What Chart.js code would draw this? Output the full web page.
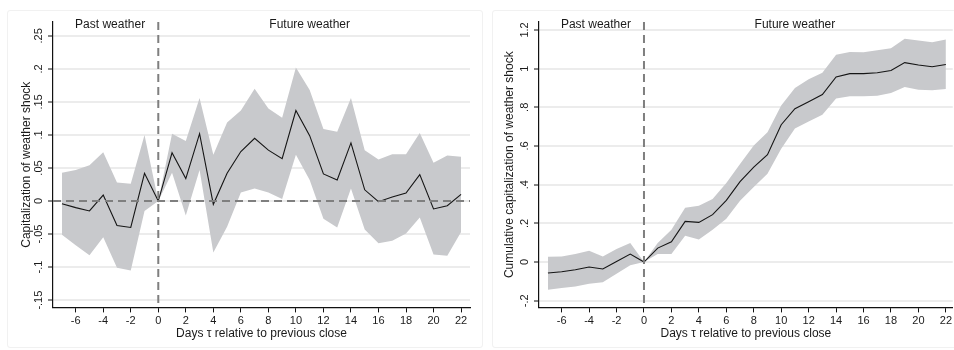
<!DOCTYPE html>
<html>
<head>
<meta charset="utf-8">
<script src="https://cdn.jsdelivr.net/npm/chart.js@4/dist/chart.umd.min.js"></script>
<style>
  body { margin: 0; background: #fff; width: 954px; height: 350px; overflow: hidden; position: relative; }
  .panel { position: absolute; top: 0; width: 477px; height: 350px; }
  .frame { position: absolute; border: 1px solid #f1f1f1; border-radius: 3px; }
</style>
</head>
<body>
<div class="frame" style="left:7px;top:10px;width:474px;height:336px"></div>
<div class="frame" style="left:492px;top:10px;width:470px;height:336px"></div>
<div class="panel" style="left:0"><canvas id="shockChart" width="477" height="350"></canvas></div>
<div class="panel" style="left:477px"><canvas id="cumChart" width="477" height="350"></canvas></div>

<script>
// days relative to previous close
const days = [-7, -6, -5, -4, -3, -2, -1, 0, 1, 2, 3, 4, 5, 6, 7, 8, 9, 10, 11, 12, 13, 14, 15, 16, 17, 18, 19, 20, 21, 22];

// left panel: capitalization of weather shock
const shock   = [-0.004, -0.010, -0.015, 0.009, -0.037, -0.040, 0.042, 0, 0.073, 0.034, 0.102, -0.005, 0.042, 0.075, 0.095, 0.077, 0.064, 0.137, 0.099, 0.041, 0.032, 0.088, 0.017, -0.001, 0.006, 0.012, 0.040, -0.012, -0.007, 0.010];
const shockHi = [0.043, 0.047, 0.054, 0.074, 0.028, 0.026, 0.100, 0, 0.102, 0.091, 0.156, 0.070, 0.119, 0.137, 0.170, 0.140, 0.126, 0.202, 0.168, 0.109, 0.105, 0.156, 0.077, 0.063, 0.071, 0.071, 0.103, 0.058, 0.069, 0.067];
const shockLo = [-0.051, -0.067, -0.082, -0.055, -0.101, -0.105, -0.015, 0, 0.043, -0.022, 0.047, -0.078, -0.039, 0.013, 0.019, 0.013, 0.003, 0.070, 0.032, -0.027, -0.040, 0.019, -0.043, -0.064, -0.060, -0.049, -0.025, -0.081, -0.083, -0.047];

// right panel: cumulative capitalization
const cum   = [-0.057, -0.050, -0.040, -0.026, -0.036, 0.003, 0.041, 0, 0.072, 0.105, 0.210, 0.205, 0.245, 0.319, 0.416, 0.491, 0.555, 0.710, 0.793, 0.829, 0.866, 0.957, 0.974, 0.974, 0.979, 0.990, 1.031, 1.019, 1.010, 1.021];
const cumHi = [0.028, 0.029, 0.041, 0.059, 0.029, 0.067, 0.098, 0, 0.098, 0.167, 0.281, 0.291, 0.326, 0.409, 0.507, 0.602, 0.671, 0.809, 0.900, 0.945, 0.978, 1.072, 1.086, 1.084, 1.095, 1.105, 1.155, 1.145, 1.136, 1.150];
const cumLo = [-0.143, -0.134, -0.126, -0.112, -0.105, -0.060, -0.017, 0, 0.041, 0.041, 0.136, 0.116, 0.167, 0.224, 0.317, 0.388, 0.457, 0.586, 0.691, 0.726, 0.762, 0.845, 0.857, 0.857, 0.860, 0.874, 0.905, 0.891, 0.888, 0.895];

// tick labels
const xTicks = [-6, -4, -2, 0, 2, 4, 6, 8, 10, 12, 14, 16, 18, 20, 22];
const shockTicks = [-0.15, -0.1, -0.05, 0, 0.05, 0.1, 0.15, 0.2, 0.25];
const shockLabels = ['-.15', '-.1', '-.05', '0', '.05', '.1', '.15', '.2', '.25'];
const cumTicks = [-0.2, 0, 0.2, 0.4, 0.6, 0.8, 1, 1.2];
const cumLabels = ['-.2', '0', '.2', '.4', '.6', '.8', '1', '1.2'];

const periodLabels = ['Past weather', 'Future weather'];
const periodAt = [-3.5, 11];

const FONT = '"Liberation Sans", Arial, sans-serif';
const TXT = '#1a1a1a';
const TICKLEN = 5;

const toPts = arr => arr.map((v, i) => ({ x: days[i], y: v }));

// dashed reference lines, period labels and rotated y labels
const decor = {
  id: 'decor',
  afterDatasetsDraw(chart, args, o) {
    const { ctx, chartArea: a, scales: { x, y } } = chart;
    ctx.save();
    ctx.strokeStyle = '#7f7f7f';
    ctx.lineWidth = 2;
    ctx.setLineDash([8, 5]);
    const x0 = x.getPixelForValue(0);
    ctx.beginPath(); ctx.moveTo(x0, a.top); ctx.lineTo(x0, a.bottom); ctx.stroke();
    if (o.hZero) {
      const y0 = y.getPixelForValue(0);
      ctx.beginPath(); ctx.moveTo(a.left, y0); ctx.lineTo(a.right, y0); ctx.stroke();
    }
    ctx.restore();
  },
  afterDraw(chart, args, o) {
    const { ctx, chartArea: a, scales: { x, y } } = chart;
    ctx.save();
    ctx.fillStyle = TXT;
    ctx.font = '12px ' + FONT;
    ctx.textAlign = 'center';
    ctx.textBaseline = 'middle';
    periodLabels.forEach((t, i) => ctx.fillText(t, x.getPixelForValue(periodAt[i]), a.top + 2.5));

    ctx.font = '11px ' + FONT;
    o.ticks.forEach((v, i) => {
      ctx.save();
      ctx.translate(a.left - 14, y.getPixelForValue(v));
      ctx.rotate(-Math.PI / 2);
      ctx.fillText(o.labels[i], 0, 0);
      ctx.restore();
    });
    ctx.font = '12px ' + FONT;
    ctx.translate(a.left - o.titleGap, (a.top + a.bottom) / 2);
    ctx.rotate(-Math.PI / 2);
    ctx.fillText(o.title, 0, 0);
    ctx.restore();
  }
};

function makeChart(id, mid, hi, lo, yTicks, yLabels, yMin, yMax, xMax, yTitle, hZero, padLeft, padRight, titleGap) {
  new Chart(document.getElementById(id), {
    type: 'line',
    data: {
      datasets: [
        { data: toPts(mid), fill: false, borderColor: '#151515', borderWidth: 1.1, pointRadius: 0 },
        { data: toPts(hi), fill: '+1', backgroundColor: 'rgb(200,201,204)', borderWidth: 0, pointRadius: 0 },
        { data: toPts(lo), fill: false, borderWidth: 0, pointRadius: 0 }
      ]
    },
    options: {
      responsive: false,
      animation: false,
      layout: { padding: { left: padLeft - TICKLEN, right: padRight, top: 22, bottom: 9 } },
      scales: {
        x: {
          type: 'linear', min: -7.65, max: xMax,
          afterBuildTicks: s => { s.ticks = xTicks.map(v => ({ value: v })); },
          grid: { drawOnChartArea: false, tickLength: TICKLEN, tickColor: '#111', tickWidth: 1 },
          border: { color: '#111', width: 1.2 },
          ticks: { font: { family: FONT, size: 11 }, color: TXT, padding: 2, maxRotation: 0, autoSkip: false },
          title: { display: true, text: 'Days τ relative to previous close', color: TXT,
                   font: { family: FONT, size: 12 }, padding: { top: -3, bottom: 0 } }
        },
        y: {
          type: 'linear', min: yMin, max: yMax,
          afterBuildTicks: s => { s.ticks = yTicks.map(v => ({ value: v })); },
          grid: { color: '#ececec', lineWidth: 2, tickLength: TICKLEN, tickColor: '#111', tickWidth: 1 },
          border: { color: '#111', width: 1.2 },
          ticks: { display: false }
        }
      },
      plugins: {
        legend: { display: false },
        tooltip: { enabled: false },
        decor: { ticks: yTicks, labels: yLabels, title: yTitle, hZero: hZero, titleGap: titleGap }
      }
    },
    plugins: [decor]
  });
}

makeChart('shockChart', shock, shockHi, shockLo, shockTicks, shockLabels, -0.161, 0.271, 22.65,
          'Capitalization of weather shock', true, 53, 7, 26);
makeChart('cumChart', cum, cumHi, cumLo, cumTicks, cumLabels, -0.2345, 1.241, 22.5,
          'Cumulative capitalization of weather shock', false, 62, 0, 29);
</script>
</body>
</html>
